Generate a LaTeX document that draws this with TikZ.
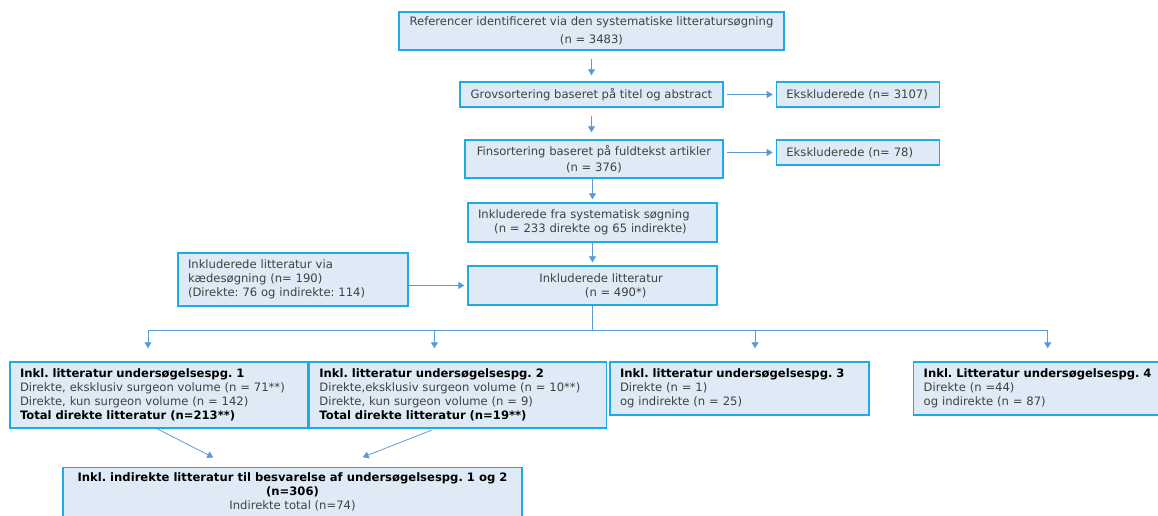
\documentclass[tikz,border=0pt]{standalone}
\usepackage{fontspec}
\setmainfont{DejaVu Sans}
\usepackage{xcolor}
\usetikzlibrary{arrows.meta, positioning}
\frenchspacing
\definecolor{boxfill}{HTML}{DEEBF7}
\definecolor{boxline}{HTML}{1EAAE3}
\definecolor{arrowblue}{HTML}{5B9BD5}
\definecolor{txtgray}{HTML}{404040}
\tikzset{
    box/.style={rectangle, draw=boxline, line width=1.4pt, fill=boxfill, inner xsep=10pt, inner ysep=3pt, align=center, text=txtgray, font=\fontsize{11.6}{14}\selectfont},
    boxl/.style={box, align=left},
    arrow/.style={-{Triangle[length=6pt, width=7pt]}, draw=arrowblue, line width=0.8pt},
    line/.style={draw=arrowblue, line width=0.8pt},
}

\begin{document}
\begin{tikzpicture}[x=1pt, y=-1pt]
    \useasboundingbox (0,0) rectangle (1158,515);

    \node[box, minimum width=385pt, minimum height=38pt] (ref) at (591.5,31) {Referencer identificeret via den systematiske litteratursøgning\\[4pt](n = 3483)};
    \node[box, minimum width=263pt, minimum height=25pt] (grov) at (591.5,94.5) {Grovsortering baseret på titel og abstract};
    \node[boxl, minimum width=163pt, minimum height=25pt, text width=143pt, right=52pt of grov] (eks1) {Ekskluderede (n= 3107)};
    \node[box, minimum width=258pt, minimum height=38pt] (fin) at (594,159) {Finsortering baseret på fuldtekst artikler\\[1.5pt](n = 376)};
    \node[boxl, minimum width=163pt, minimum height=25pt, text width=143pt, right=52pt of fin, yshift=6.5pt] (eks2) {Ekskluderede (n= 78)};
    \node[boxl, minimum width=249pt, minimum height=39pt, text width=229pt] (sys) at (592.5,222.5) {Inkluderede fra systematisk søgning\\\hspace*{1.4em}(n = 233 direkte og 65 indirekte)};
    \node[box, minimum width=249pt, minimum height=39pt] (lit) at (592.5,285.5) {\hspace*{1.5em}Inkluderede litteratur\\\hspace*{4em}(n = 490*)};
    \node[boxl, minimum width=230pt, minimum height=53pt, text width=210pt] (kaede) at (293,279.5) {Inkluderede litteratur via\\kædesøgning (n= 190)\\(Direkte: 76 og indirekte: 114)};

    \node[boxl, minimum width=298pt, minimum height=66pt, text width=278pt] (q1) at (159,395) {\textcolor{black}{\textbf{Inkl. litteratur undersøgelsespg. 1}}\\Direkte, eksklusiv surgeon volume (n = 71**)\\Direkte, kun surgeon volume (n = 142)\\\textcolor{black}{\textbf{Total direkte litteratur (n=213**)}}};
    \node[boxl, minimum width=297pt, minimum height=66pt, text width=277pt, right=0pt of q1] (q2) {\textcolor{black}{\textbf{Inkl. litteratur undersøgelsespg. 2}}\\Direkte,eksklusiv surgeon volume (n = 10**)\\Direkte, kun surgeon volume (n = 9)\\\textcolor{black}{\textbf{Total direkte litteratur (n=19**)}}};
    \node[boxl, minimum width=259pt, minimum height=53pt, text width=239pt] (q3) at (739.5,388.5) {\textcolor{black}{\textbf{Inkl. litteratur undersøgelsespg. 3}}\\Direkte (n = 1)\\og indirekte (n = 25)};
    \node[boxl, minimum height=53pt, text width=250pt, anchor=west] (q4) at (913,388.5) {\textcolor{black}{\textbf{Inkl. Litteratur undersøgelsespg. 4}}\\Direkte (n =44)\\og indirekte (n = 87)};

    \node[box, minimum width=459pt, inner ysep=5pt, text depth=45pt, anchor=north] (ind) at (292.5,467) {\textcolor{black}{\textbf{Inkl. indirekte litteratur til besvarelse af undersøgelsespg. 1 og 2}}\\\textcolor{black}{\textbf{(n=306)}}\\Indirekte total (n=74)};

    \draw[arrow, shorten <=8pt, shorten >=6pt] (ref) -- (grov);
    \draw[arrow, shorten <=3pt, shorten >=3pt] (grov) -- (eks1);
    \draw[arrow, shorten <=8pt, shorten >=7pt] (grov.south) -- (grov.south |- fin.north);
    \draw[arrow, shorten <=3pt, shorten >=3pt] (fin.east |- eks2.west) -- (eks2.west);
    \draw[arrow, shorten >=3pt] (fin.south -| sys.north) -- (sys.north);
    \draw[arrow, shorten >=3pt] (sys.south) -- (lit.north);
    \draw[arrow, shorten >=3pt] (kaede.east |- lit.west) -- (lit.west);

    \draw[line] (lit.south) -- ++(0,25) coordinate (hub);
    \draw[arrow, shorten >=13pt] (hub) -| ([xshift=-11pt]q1.north);
    \draw[arrow, shorten >=13pt] (hub) -| ([xshift=-23.5pt]q2.north);
    \draw[arrow, shorten >=13pt] (hub) -| ([xshift=15.5pt]q3.north);
    \draw[arrow, shorten >=13pt] (hub) -| ([xshift=-1pt]q4.north);

    \draw[arrow, shorten >=21pt] ([xshift=-2pt]q1.south) -- ([xshift=-60.5pt]ind.north);
    \draw[arrow, shorten <=4pt, shorten >=27pt] ([xshift=-22.5pt]q2.south) -- ([xshift=45pt]ind.north);
\end{tikzpicture}
\end{document}
